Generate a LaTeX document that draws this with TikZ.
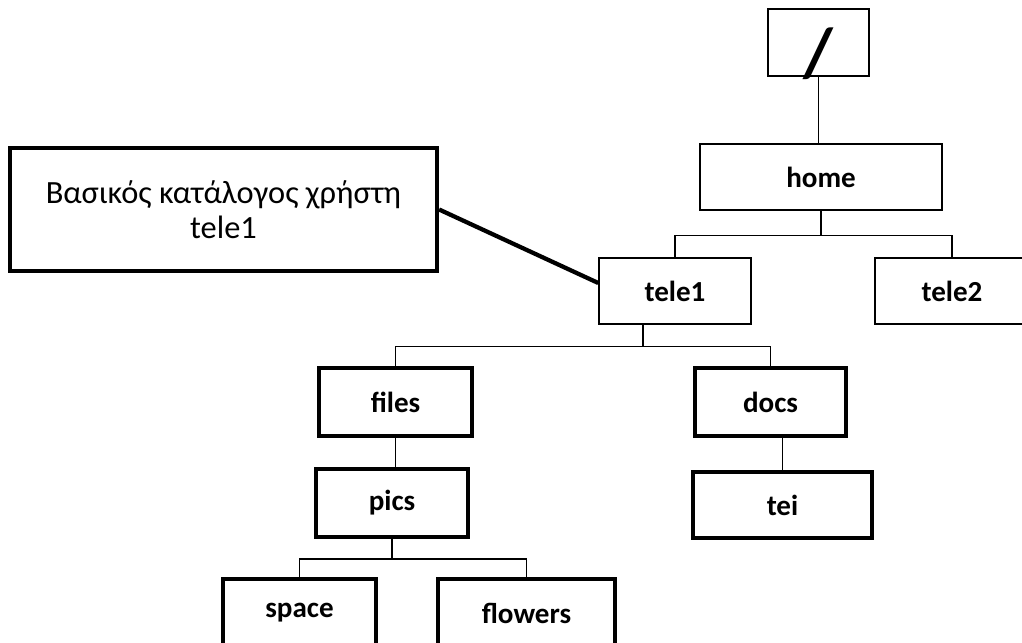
\documentclass[tikz,border=0pt]{standalone}
\usepackage{fontspec}
\setmainfont{Carlito}
\usetikzlibrary{positioning}
\tikzset{
    dirthin/.style = {rectangle, draw=black, line width=1.1pt, inner sep=0pt, fill=white, font=\fontsize{21.8}{25}\selectfont\bfseries},
    dirthick/.style = {rectangle, draw=black, line width=3pt, inner sep=0pt, fill=white, font=\fontsize{21.8}{25}\selectfont\bfseries},
    note/.style = {rectangle, draw=black, line width=3.2pt, inner sep=0pt, align=center, font=\fontsize{24.3}{26.3}\selectfont},
    link/.style = {draw=black, line width=1.1pt},
    linkb/.style = {draw=black, line width=3.2pt}
}
\begin{document}
\begin{tikzpicture}[x=0.75pt,y=-0.75pt]
\useasboundingbox (0,0) rectangle (1022,643);
\node[dirthin, minimum width=75.75pt, minimum height=50.25pt] at (818.5,42.5) (root) {};
\node[font=\fontsize{52}{52}\selectfont\bfseries, inner sep=0pt] at (818.5,54) (slash) {/};
\node[dirthin, minimum width=181.5pt, minimum height=49.5pt] at (821.0,177.0) (home) {home};
\node[dirthin, minimum width=114pt, minimum height=49.5pt] at (675.0,291.0) (tele1) {tele1};
\node[dirthin, minimum width=115.5pt, minimum height=49.5pt] at (952.0,291.0) (tele2) {tele2};
\node[dirthick, minimum width=114.75pt, minimum height=51pt] at (395.5,402.0) (files) {files};
\node[dirthick, minimum width=113.25pt, minimum height=51pt] at (770.5,402.0) (docs) {docs};
\node[dirthick, minimum width=114pt, minimum height=51pt] at (392.0,503.0) (pics) {pics};
\node[dirthick, minimum width=134.25pt, minimum height=49.5pt] at (782.5,505.0) (tei) {tei};
\node[dirthick, minimum width=114.75pt, minimum height=51pt] at (299.5,613.0) (space) {space};
\node[dirthick, minimum width=132.75pt, minimum height=51pt] at (526.5,613.0) (flowers) {flowers};
\node[note, minimum width=320.25pt, minimum height=92.25pt] at (223.5,209.5) (note) {Βασικός κατάλογος χρήστη\\tele1};
%
\draw[link] (root.south) -- (root.south |- home.north);
\draw[link] (home.south) -- ++(0,25) coordinate (hj);
\draw[link] (hj) -| (tele1.north);
\draw[link] (hj) -| (tele2.north);
\draw[link] ([xshift=-24pt]tele1.south) -- ++(0,22) coordinate (tj);
\draw[link] (tj) -| (files.north);
\draw[link] (tj) -| (docs.north);
\draw[link] (files.south) -- (files.south |- pics.north);
\draw[link] (tei.north |- docs.south) -- (tei.north);
\draw[link] (pics.south) -- ++(0,20) coordinate (pj);
\draw[link] (pj) -| (space.north);
\draw[link] (pj) -| (flowers.north);
\draw[linkb] (note.east) -- ([yshift=6pt]tele1.west);
\end{tikzpicture}
\end{document}
